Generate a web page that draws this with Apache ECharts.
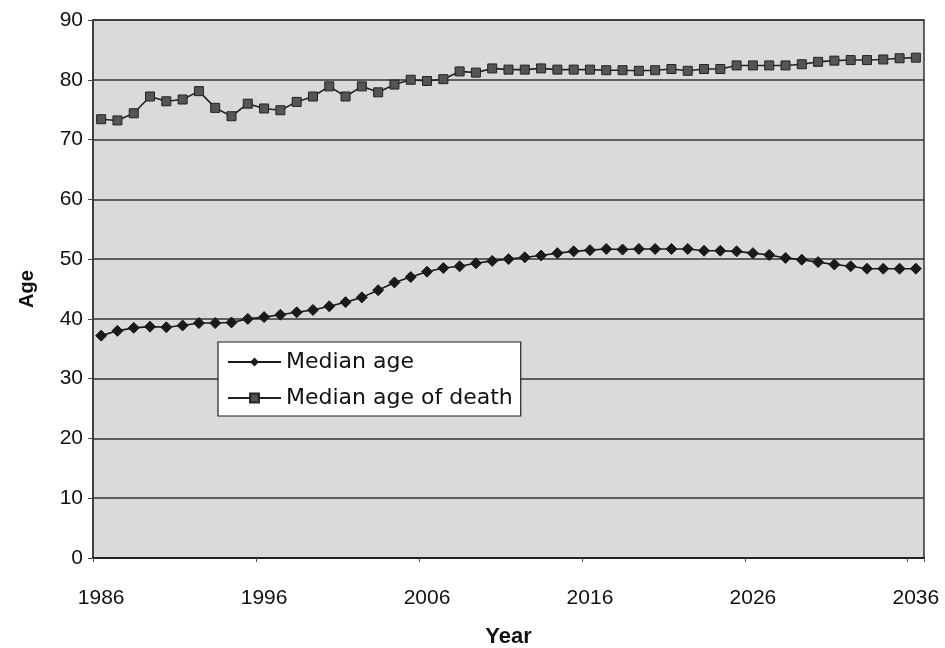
<!DOCTYPE html>
<html>
<head>
<meta charset="utf-8">
<script src="https://cdn.jsdelivr.net/npm/echarts@6/dist/echarts.min.js"></script>
<style>
html,body{margin:0;padding:0;background:#fff;}
#chart{width:945px;height:648px;}
</style>
</head>
<body>
<div id="chart"></div>
<script>
const years = ['1986','1987','1988','1989','1990','1991','1992','1993','1994','1995',
  '1996','1997','1998','1999','2000','2001','2002','2003','2004','2005',
  '2006','2007','2008','2009','2010','2011','2012','2013','2014','2015',
  '2016','2017','2018','2019','2020','2021','2022','2023','2024','2025',
  '2026','2027','2028','2029','2030','2031','2032','2033','2034','2035','2036'];

const medianAge = [37.2,38.0,38.5,38.7,38.6,38.9,39.3,39.3,39.4,40.0,
  40.3,40.7,41.1,41.5,42.1,42.8,43.6,44.8,46.1,47.0,
  47.9,48.5,48.8,49.3,49.7,50.0,50.3,50.6,51.0,51.3,
  51.5,51.7,51.6,51.7,51.7,51.7,51.7,51.4,51.4,51.3,
  51.0,50.7,50.2,49.9,49.5,49.1,48.8,48.4,48.4,48.4,48.4];

const medianAgeOfDeath = [73.4,73.2,74.4,77.2,76.4,76.7,78.1,75.3,73.9,76.0,
  75.2,74.9,76.3,77.2,78.9,77.2,78.9,77.9,79.2,80.0,
  79.8,80.1,81.4,81.2,81.9,81.7,81.7,81.9,81.7,81.7,
  81.7,81.6,81.6,81.5,81.6,81.8,81.5,81.8,81.8,82.4,
  82.4,82.4,82.4,82.6,83.0,83.2,83.3,83.3,83.4,83.6,83.7];

const seriesNames = ['Median age', 'Median age of death'];

const chart = echarts.init(document.getElementById('chart'), null, {renderer: 'canvas'});
chart.setOption({
  animation: false,
  backgroundColor: '#ffffff',
  grid: {
    left: 93, right: 21, top: 20, bottom: 90,
    containLabel: false,
    outerBoundsMode: 'none',
    show: true,
    backgroundColor: '#dadada',
    borderColor: '#333',
    borderWidth: 1.5
  },
  legend: {
    orient: 'vertical',
    left: 218, top: 342,
    data: seriesNames,
    backgroundColor: '#ffffff',
    borderColor: '#222',
    borderWidth: 1.2,
    borderRadius: 0,
    padding: [8, 8, 6, 9],
    itemWidth: 53,
    itemHeight: 11,
    itemGap: 12,
    textStyle: {
      fontFamily: 'DejaVu Sans',
      fontSize: 22,
      color: '#111',
      lineHeight: 24
    }
  },
  xAxis: {
    type: 'category',
    data: years,
    boundaryGap: true,
    name: 'Year',
    nameLocation: 'middle',
    nameGap: 68,
    nameTextStyle: {fontFamily: 'Liberation Sans', fontSize: 22, fontWeight: 'bold', color: '#111'},
    axisLine: {show: true, lineStyle: {color: '#222', width: 2}},
    axisTick: {show: true, length: 4, lineStyle: {color: '#555'}},
    axisLabel: {
      interval: 9,
      margin: 30,
      fontFamily: 'Liberation Sans',
      fontSize: 21,
      color: '#111'
    },
    splitLine: {show: false}
  },
  yAxis: {
    type: 'value',
    min: 0, max: 90, interval: 10,
    name: 'Age',
    nameLocation: 'middle',
    nameGap: 56,
    nameRotate: 90,
    nameTextStyle: {fontFamily: 'Liberation Sans', fontSize: 20, fontWeight: 'bold', color: '#111'},
    axisLine: {show: true, lineStyle: {color: '#333', width: 1.5}},
    axisTick: {show: true, length: 5, lineStyle: {color: '#444'}},
    axisLabel: {
      margin: 10,
      fontFamily: 'Liberation Sans',
      fontSize: 21,
      color: '#111'
    },
    splitLine: {show: true, lineStyle: {color: '#333', width: 1.5}}
  },
  series: [
    {
      name: seriesNames[0],
      type: 'line',
      data: medianAge,
      symbol: 'diamond',
      symbolSize: 11,
      showAllSymbol: true,
      lineStyle: {color: '#1a1a1a', width: 1.6},
      itemStyle: {color: '#1a1a1a', borderColor: '#1a1a1a'}
    },
    {
      name: seriesNames[1],
      type: 'line',
      data: medianAgeOfDeath,
      symbol: 'rect',
      symbolSize: 9,
      showAllSymbol: true,
      lineStyle: {color: '#222', width: 1.6},
      itemStyle: {color: '#555', borderColor: '#222', borderWidth: 1}
    }
  ]
});
</script>
</body>
</html>
